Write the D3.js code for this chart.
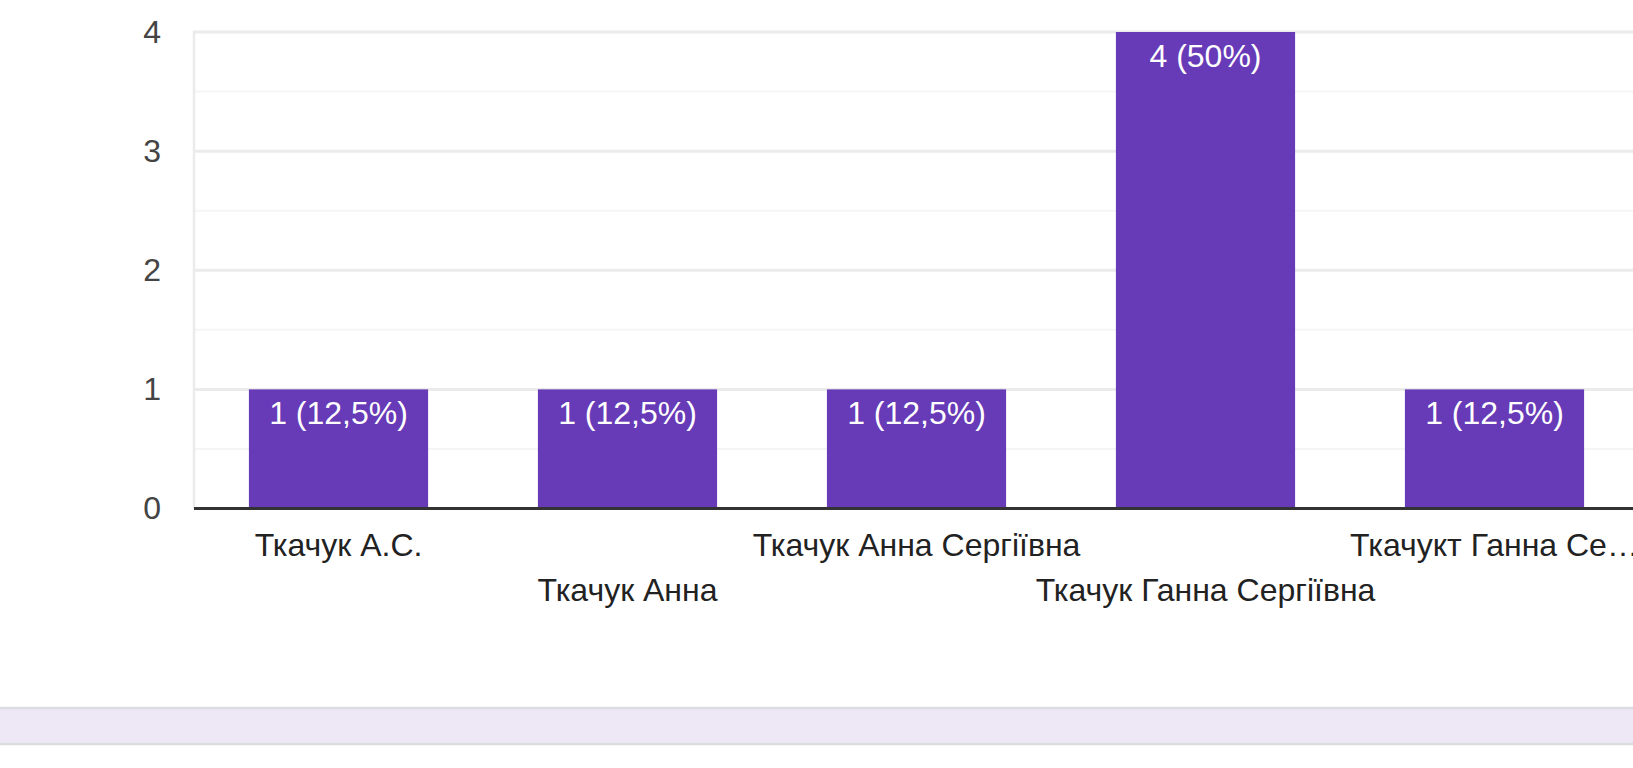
<!DOCTYPE html>
<html>
<head>
<meta charset="utf-8">
<script src="https://cdn.jsdelivr.net/npm/d3@7"></script>
<style>
  html, body { margin: 0; padding: 0; background: #fff; }
  svg { display: block; }
  text { font-family: "Liberation Sans", Arial, sans-serif; }
</style>
</head>
<body>
<svg id="chart" width="1633" height="768"></svg>
<script>
const categories = ["Ткачук А.С.", "Ткачук Анна", "Ткачук Анна Сергіївна", "Ткачук Ганна Сергіївна", "Ткачукт Ганна Се…"];
const counts = [1, 1, 1, 4, 1];
const barLabels = ["1 (12,5%)", "1 (12,5%)", "1 (12,5%)", "4 (50%)", "1 (12,5%)"];
const yTicks = [0, 1, 2, 3, 4];
const yMinorTicks = [0.5, 1.5, 2.5, 3.5];

const svg = d3.select("#chart");
const plotLeft = 194, plotTop = 32, plotBottom = 508.5, plotRight = 1639;
const fontSize = 32;

const x = d3.scaleBand().domain(categories).range([plotLeft, plotRight]).paddingInner(0.38).paddingOuter(0.19);
const y = d3.scaleLinear().domain([0, 4]).range([plotBottom, plotTop]);

// minor gridlines
svg.append("g").selectAll("line").data(yMinorTicks).join("line")
  .attr("x1", plotLeft).attr("x2", 1633)
  .attr("y1", d => y(d)).attr("y2", d => y(d))
  .attr("stroke", "#f5f5f5").attr("stroke-width", 2);

// major gridlines
svg.append("g").selectAll("line").data(yTicks.filter(d => d > 0)).join("line")
  .attr("x1", plotLeft).attr("x2", 1633)
  .attr("y1", d => y(d)).attr("y2", d => y(d))
  .attr("stroke", "#ebebeb").attr("stroke-width", 3);

// left border
svg.append("line").attr("x1", plotLeft).attr("x2", plotLeft).attr("y1", y(4) - 1.5).attr("y2", plotBottom)
  .attr("stroke", "#ebebeb").attr("stroke-width", 2.5);

// bars
svg.append("g").selectAll("rect").data(categories).join("rect")
  .attr("x", d => x(d)).attr("width", x.bandwidth())
  .attr("y", (d, i) => y(counts[i])).attr("height", (d, i) => y(0) - y(counts[i]))
  .attr("fill", "#673ab7");

// bar labels
svg.append("g").selectAll("text").data(categories).join("text")
  .attr("x", d => x(d) + x.bandwidth() / 2)
  .attr("y", (d, i) => y(counts[i]) + 35)
  .attr("text-anchor", "middle").attr("fill", "#fff")
  .attr("font-size", fontSize)
  .text((d, i) => barLabels[i]);

// baseline
svg.append("line").attr("x1", plotLeft).attr("x2", 1633).attr("y1", y(0)).attr("y2", y(0))
  .attr("stroke", "#333").attr("stroke-width", 3);

// y axis labels
const yAxis = d3.axisLeft(y).tickValues(yTicks).tickSize(0).tickPadding(33).tickFormat(d3.format("d"));
const gy = svg.append("g").attr("transform", `translate(${plotLeft},0)`).call(yAxis);
gy.select(".domain").remove();
gy.selectAll("text").attr("font-size", fontSize).attr("fill", "#444")
  .attr("font-family", "'Liberation Sans', Arial, sans-serif");

// x axis labels (staggered)
const xAxis = d3.axisBottom(x).tickSize(0).tickPadding(0);
const gx = svg.append("g").attr("transform", `translate(0,${plotBottom})`).call(xAxis);
gx.select(".domain").remove();
gx.selectAll("text")
  .attr("font-size", fontSize).attr("fill", "#222")
  .attr("font-family", "'Liberation Sans', Arial, sans-serif")
  .attr("dy", null)
  .attr("y", (d, i) => i % 2 === 0 ? 47 : 92);

// bottom band
svg.append("rect").attr("x", -5).attr("y", 708).attr("width", 1643).attr("height", 36)
  .attr("fill", "#ede7f6").attr("stroke", "#dadce0").attr("stroke-width", 2.5);
</script>
</body>
</html>
